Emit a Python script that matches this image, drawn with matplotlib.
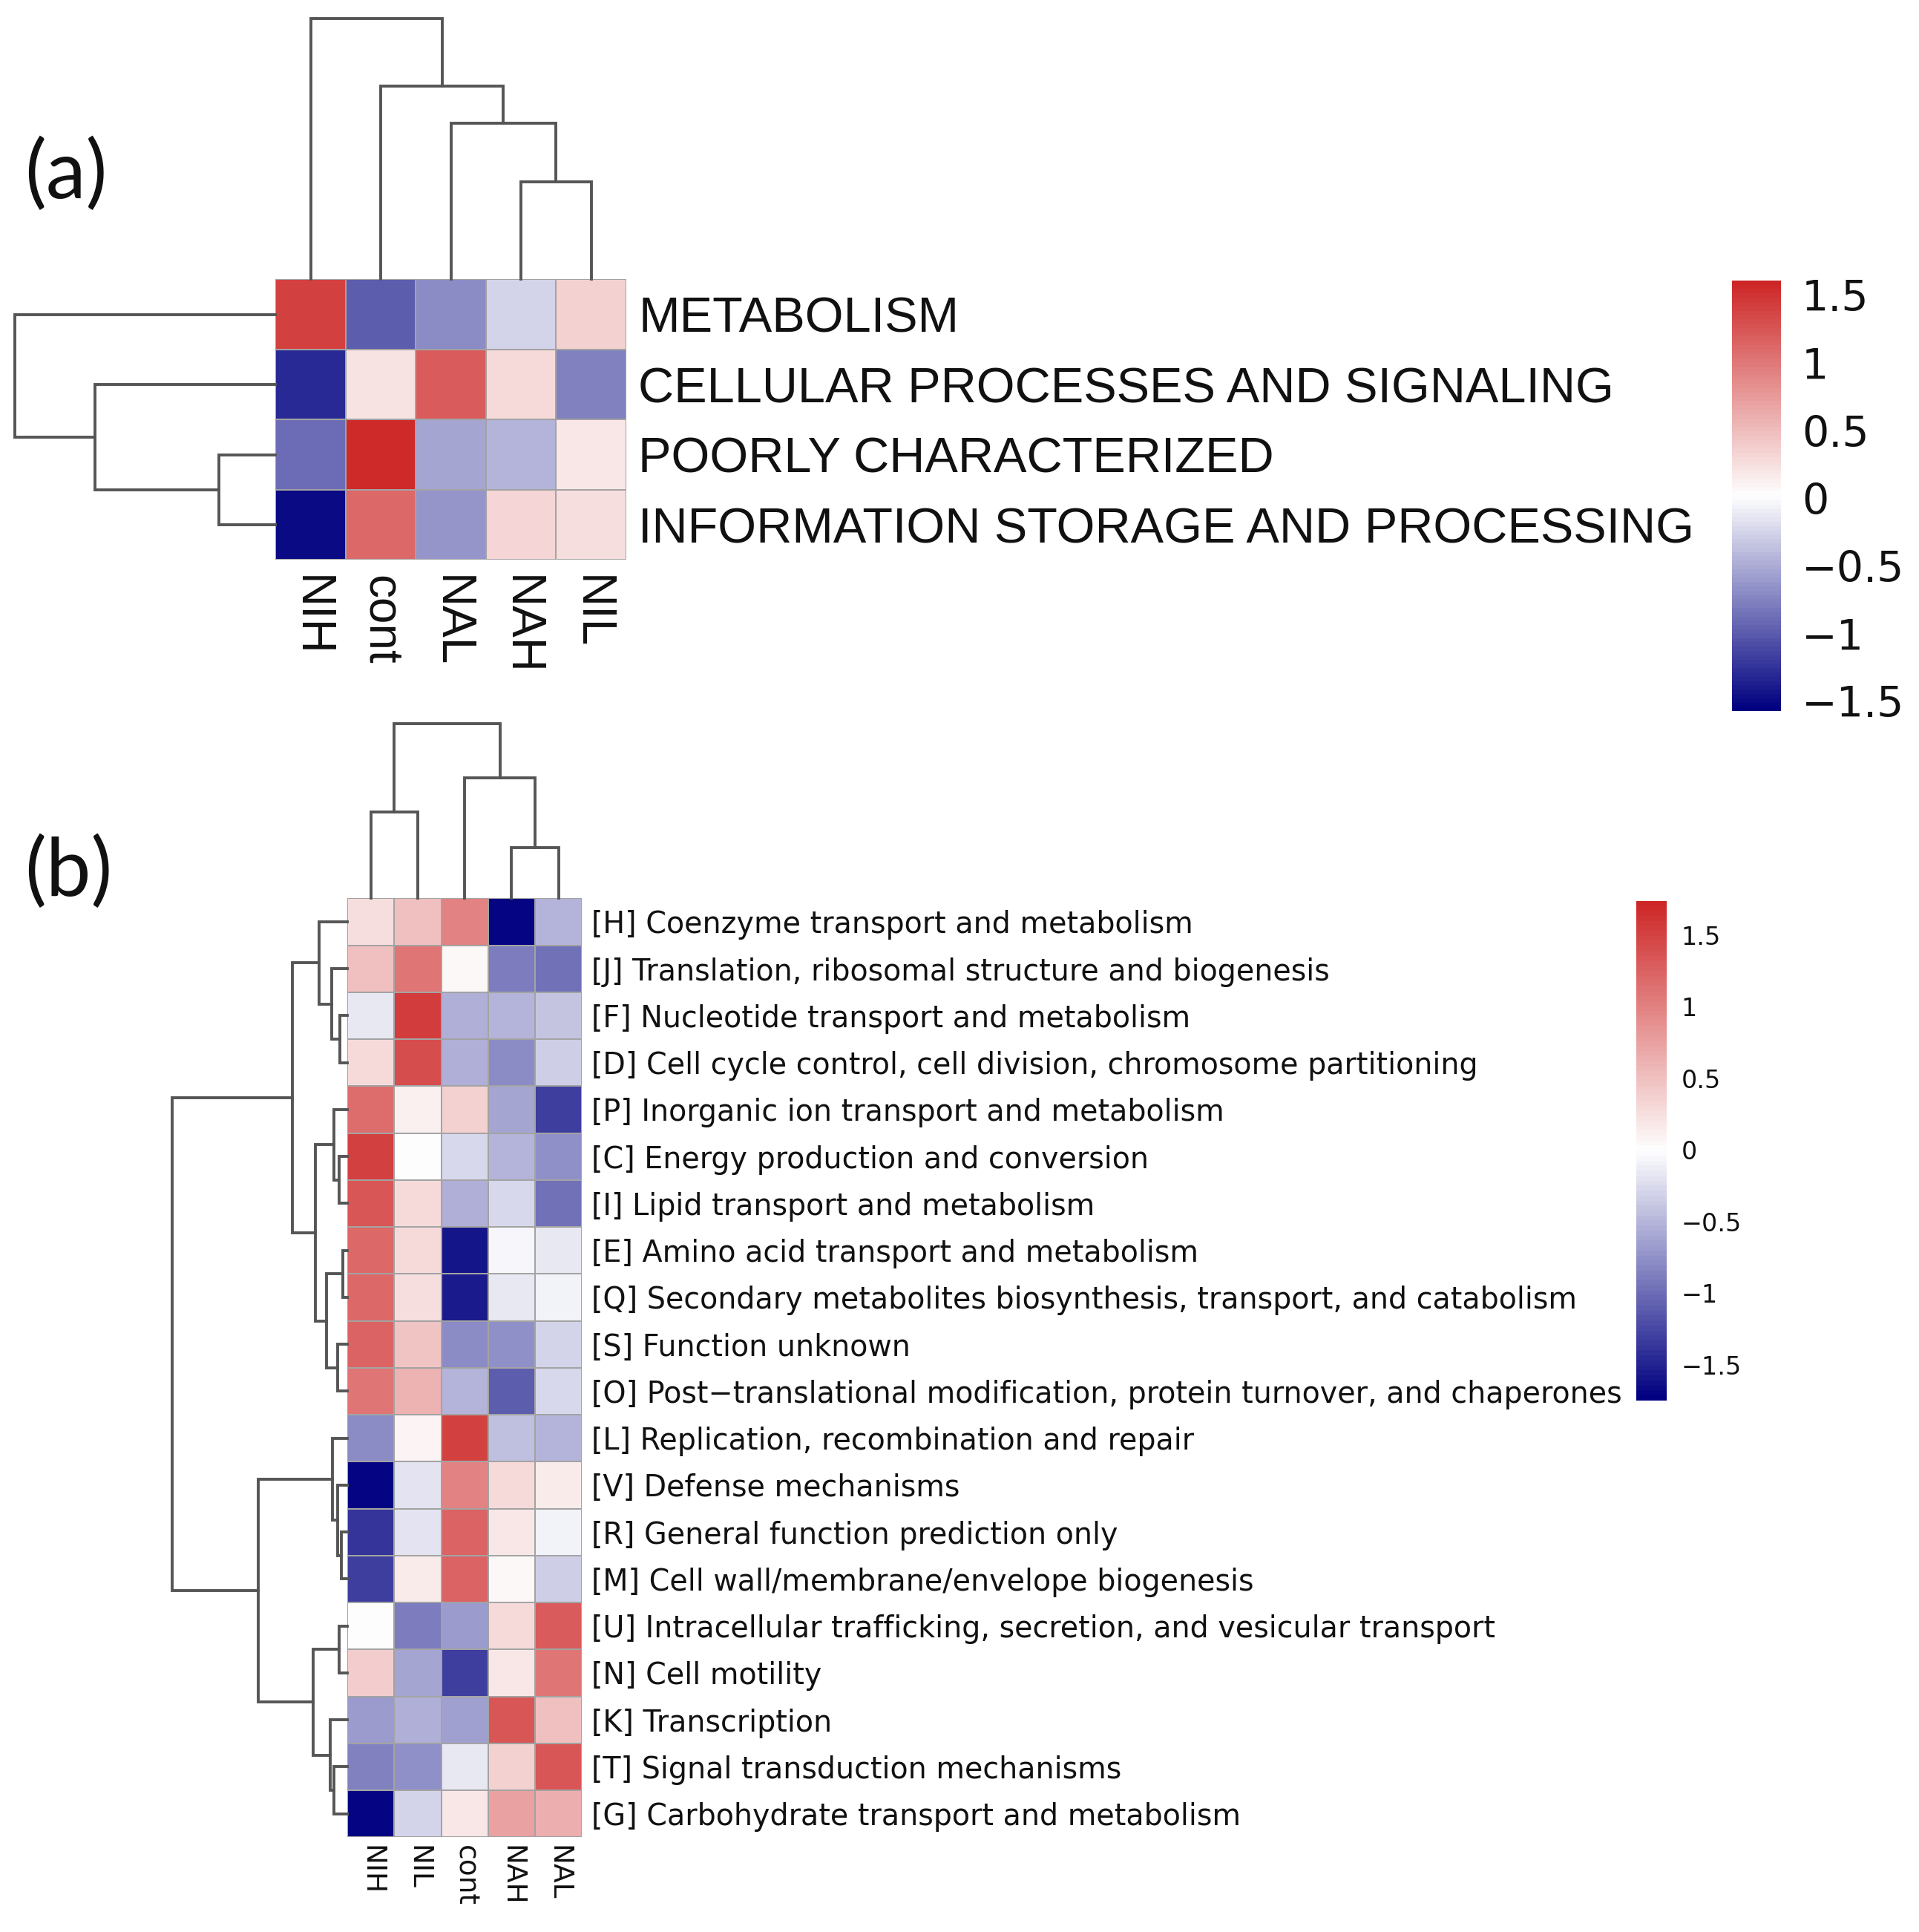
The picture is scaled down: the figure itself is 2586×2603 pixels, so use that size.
import numpy as np
import matplotlib
matplotlib.use("Agg")
import matplotlib.pyplot as plt
from matplotlib.colors import LinearSegmentedColormap, Normalize
import matplotlib.cm as cm

# ---------------- data: panel (a) ----------------
a_cols = ["NIH", "cont", "NAL", "NAH", "NIL"]
a_rows = ["METABOLISM", "CELLULAR PROCESSES AND SIGNALING",
          "POORLY CHARACTERIZED", "INFORMATION STORAGE AND PROCESSING"]
a_vals = [
    [1.40, -1.00, -0.70, -0.25, 0.35],
    [-1.30, 0.22, 1.20, 0.28, -0.75],
    [-0.90, 1.55, -0.55, -0.45, 0.18],
    [-1.50, 1.10, -0.65, 0.33, 0.25],
]
a_range = [-1.573, 1.609]
a_ticks = [1.5, 1, 0.5, 0, -0.5, -1, -1.5]
# dendrogram merges: (child, child, height)
a_col_merges = [(3, 4, 79), (2, 5, 127), (1, 6, 157), (0, 7, 212)]
a_row_merges = [(2, 3, 46), (1, 4, 146), (0, 5, 211)]

# ---------------- data: panel (b) ----------------
b_cols = ["NIH", "NIL", "cont", "NAH", "NAL"]
b_rows = [
    "[H] Coenzyme transport and metabolism",
    "[J] Translation, ribosomal structure and biogenesis",
    "[F] Nucleotide transport and metabolism",
    "[D] Cell cycle control, cell division, chromosome partitioning",
    "[P] Inorganic ion transport and metabolism",
    "[C] Energy production and conversion",
    "[I] Lipid transport and metabolism",
    "[E] Amino acid transport and metabolism",
    "[Q] Secondary metabolites biosynthesis, transport, and catabolism",
    "[S] Function unknown",
    "[O] Post\u2212translational modification, protein turnover, and chaperones",
    "[L] Replication, recombination and repair",
    "[V] Defense mechanisms",
    "[R] General function prediction only",
    "[M] Cell wall/membrane/envelope biogenesis",
    "[U] Intracellular trafficking, secretion, and vesicular transport",
    "[N] Cell motility",
    "[K] Transcription",
    "[T] Signal transduction mechanisms",
    "[G] Carbohydrate transport and metabolism",
]
b_vals = [
    [0.25, 0.50, 1.00, -1.70, -0.50],
    [0.50, 1.10, 0.05, -0.90, -0.95],
    [-0.15, 1.55, -0.55, -0.50, -0.40],
    [0.30, 1.40, -0.55, -0.80, -0.35],
    [1.15, 0.12, 0.35, -0.60, -1.30],
    [1.50, 0.02, -0.25, -0.50, -0.75],
    [1.35, 0.30, -0.55, -0.25, -0.95],
    [1.20, 0.30, -1.60, -0.05, -0.15],
    [1.20, 0.25, -1.55, -0.15, -0.10],
    [1.25, 0.45, -0.80, -0.75, -0.30],
    [1.10, 0.60, -0.50, -1.10, -0.25],
    [-0.80, 0.10, 1.50, -0.45, -0.50],
    [-1.70, -0.20, 1.00, 0.30, 0.15],
    [-1.40, -0.20, 1.25, 0.20, -0.10],
    [-1.30, 0.15, 1.25, 0.05, -0.35],
    [0.00, -0.90, -0.70, 0.30, 1.30],
    [0.40, -0.60, -1.30, 0.20, 1.10],
    [-0.70, -0.55, -0.65, 1.35, 0.50],
    [-0.85, -0.75, -0.15, 0.35, 1.35],
    [-1.70, -0.30, 0.20, 0.75, 0.65],
]
b_range = [-1.749, 1.740]
b_ticks = [1.5, 1, 0.5, 0, -0.5, -1, -1.5]
b_col_merges = [(0, 1, 70), (3, 4, 41), (2, 6, 98), (5, 7, 142)]
b_row_merges = [
    (2, 3, 6), (1, 20, 13), (0, 21, 23),
    (5, 6, 7), (4, 23, 11), (7, 8, 4), (9, 10, 8), (25, 26, 17), (24, 27, 26),
    (22, 28, 45),
    (13, 14, 5), (12, 30, 8), (11, 31, 12),
    (15, 16, 7), (18, 19, 11), (17, 34, 14), (33, 35, 28),
    (32, 36, 73),
    (29, 37, 143),
]

# ---------------- styling ----------------
cmap = LinearSegmentedColormap.from_list("nwr", ["#000080", "#ffffff", "#CD2626"], N=100)
DCOL = "#555555"
BORDER = "#a3a3a3"

W, H = 1560.0, 1570.0
fig = plt.figure(figsize=(25.86, 26.03), dpi=100)


def ax_at(x0, y0, x1, y1):
    return fig.add_axes([x0 / W, 1 - y1 / H, (x1 - x0) / W, (y1 - y0) / H])


def draw_dendro(ax, merges, n, orient):
    pos = [i + 0.5 for i in range(n)]
    hts = [0.0] * n
    for a, b, h in merges:
        pa, pb, ha, hb = pos[a], pos[b], hts[a], hts[b]
        if orient == "top":
            ax.plot([pa, pa, pb, pb], [ha, h, h, hb], color=DCOL, lw=2.8,
                    solid_joinstyle="miter", clip_on=False)
        else:
            ax.plot([ha, h, h, hb], [pa, pa, pb, pb], color=DCOL, lw=2.8,
                    solid_joinstyle="miter", clip_on=False)
        pos.append((pa + pb) / 2.0)
        hts.append(h)
    return max(hts)


def heatmap(box, vals, rng, rows, cols, row_fs, col_fs, row_pad, col_pad, fam):
    ax = ax_at(*box)
    v = np.array(vals)
    norm = Normalize(vmin=rng[0], vmax=rng[1])
    ax.pcolormesh(v, cmap=cmap, norm=norm, edgecolors=BORDER, linewidth=1.3)
    ax.set_xlim(0, v.shape[1])
    ax.set_ylim(v.shape[0], 0)
    ax.axis("off")
    for i, r in enumerate(rows):
        ax.annotate(r, xy=(v.shape[1], i + 0.5), xytext=(row_pad, 0),
                    textcoords="offset points", va="center_baseline", ha="left",
                    fontsize=row_fs, family=fam, color="#111111",
                    annotation_clip=False)
    for j, c in enumerate(cols):
        ax.annotate(c, xy=(j + 0.5, v.shape[0]), xytext=(0, -col_pad),
                    textcoords="offset points", va="top", ha="center",
                    rotation=270, fontsize=col_fs, family=fam, color="#111111",
                    annotation_clip=False)
    return ax, norm


def colorbar(box, norm, ticks, fs, pad, fam):
    cax = ax_at(*box)
    cb = fig.colorbar(cm.ScalarMappable(norm=norm, cmap=cmap), cax=cax)
    cb.outline.set_visible(False)
    cb.set_ticks(ticks)
    cb.set_ticklabels([("%g" % t).replace("-", "\u2212") for t in ticks])
    cax.tick_params(length=0, pad=pad, labelsize=fs)
    for t in cax.get_yticklabels():
        t.set_family(fam)
        t.set_color("#111111")


# ---------------- panel (a) ----------------
hx0, hy0, hx1, hy1 = 224, 227, 509, 455
axa, norm_a = heatmap((hx0, hy0, hx1, hy1), a_vals, a_range, a_rows, a_cols,
                      48, 46, 12, 15, ["Liberation Sans", "DejaVu Sans"])
axt = ax_at(hx0, 15, hx1, hy0)
axt.set_xlim(0, len(a_cols))
axt.set_ylim(0, 212)
draw_dendro(axt, a_col_merges, len(a_cols), "top")
axt.axis("off")
axl = ax_at(12, hy0, hx0, hy1)
axl.set_ylim(len(a_rows), 0)
axl.set_xlim(211, 0)
draw_dendro(axl, a_row_merges, len(a_rows), "left")
axl.axis("off")
colorbar((1408, 228, 1448, 578), norm_a, a_ticks, 41, 20, ["DejaVu Sans"])

# ---------------- panel (b) ----------------
bx0, by0, bx1, by1 = 282.5, 730, 473, 1493
axb, norm_b = heatmap((bx0, by0, bx1, by1), b_vals, b_range, b_rows, b_cols,
                      28.5, 27, 9, 8, ["DejaVu Sans"])
axt2 = ax_at(bx0, 588, bx1, by0)
axt2.set_xlim(0, len(b_cols))
axt2.set_ylim(0, 142)
draw_dendro(axt2, b_col_merges, len(b_cols), "top")
axt2.axis("off")
axl2 = ax_at(140, by0, bx0, by1)
axl2.set_ylim(len(b_rows), 0)
axl2.set_xlim(143, 0)
draw_dendro(axl2, b_row_merges, len(b_rows), "left")
axl2.axis("off")
colorbar((1330, 732, 1355, 1138), norm_b, b_ticks, 24, 14, ["DejaVu Sans"])

# ---------------- panel letters ----------------
fig.text(20 / W, 1 - 142 / H, "(a)", fontsize=78, family=["Lato", "DejaVu Sans"],
         va="center", ha="left", color="#111111")
fig.text(20 / W, 1 - 709 / H, "(b)", fontsize=78, family=["Lato", "DejaVu Sans"],
         va="center", ha="left", color="#111111")

fig.savefig("out.png", dpi=100, facecolor="white")
